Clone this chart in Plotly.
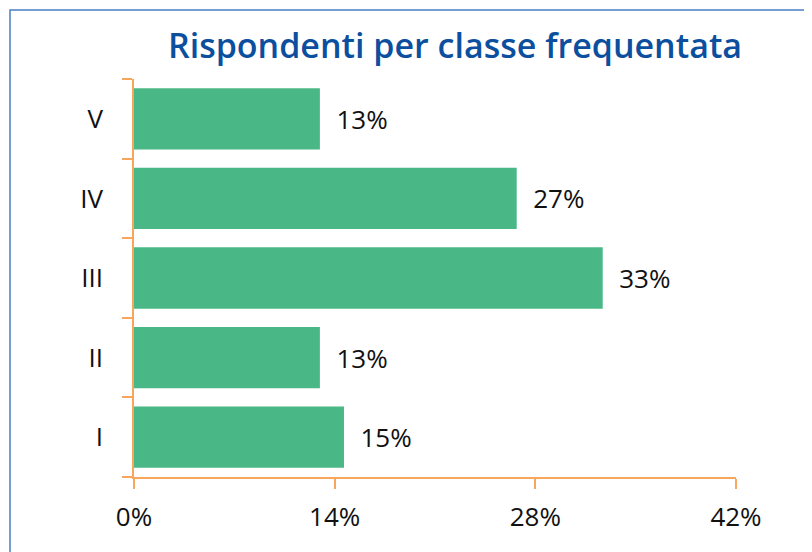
import plotly.graph_objects as go

# data
classi = ["I", "II", "III", "IV", "V"]
quote = [0.1465, 0.1297, 0.327, 0.267, 0.1297]
tick_vals = [0, 0.14, 0.28, 0.42]
tick_text = ["0%", "14%", "28%", "42%"]

GREEN = "#49B886"
ORANGE = "#F7A65B"
BLUE = "#0B4F9E"
FONT = "Open Sans"

figure = go.Figure(
    go.Bar(
        x=quote,
        y=classi,
        orientation="h",
        marker=dict(color=GREEN, line_width=0),
        texttemplate="  %{x:.0%}",
        textposition="outside",
        textfont=dict(family=FONT, size=26, color="#111111"),
        cliponaxis=False,
        hoverinfo="skip",
    )
)

# the page has an 8px body margin, so the figure is 804x544 and starts at (8, 8)
# plot area on the page: x 134..736, y 79..477
W, H = 804, 544
L, T = 126, 71
pw, ph = 602, 398
R, B = W - L - pw, H - T - ph


def px_x(p):
    return (p - 8 - L) / pw


def px_y(p):
    return (T + ph - (p - 8)) / ph


figure.add_shape(
    type="rect",
    xref="paper",
    yref="paper",
    x0=px_x(10),
    x1=px_x(830),
    y0=px_y(570),
    y1=px_y(10),
    line=dict(color="#4A7FC7", width=1.5),
    fillcolor="rgba(0,0,0,0)",
    layer="below",
)

figure.update_layout(
    width=W,
    height=H,
    margin=dict(l=L, r=R, t=T, b=B),
    paper_bgcolor="white",
    plot_bgcolor="white",
    showlegend=False,
    bargap=0.23,
    title=dict(
        text="Rispondenti per classe frequentata",
        font=dict(family=FONT, size=34, color=BLUE, weight=600),
        xref="container",
        x=(455 - 8) / W,
        xanchor="center",
        yref="container",
        y=1 - (46 - 8) / H,
        yanchor="middle",
    ),
)
figure.update_xaxes(
    range=[0, 0.42],
    tickvals=tick_vals,
    ticktext=tick_text,
    showgrid=False,
    zeroline=False,
    showline=True,
    linecolor=ORANGE,
    linewidth=1.5,
    ticks="outside",
    ticklen=10,
    tickcolor=ORANGE,
    tickwidth=1.5,
    ticklabelstandoff=6,
    tickfont=dict(family=FONT, size=26, color="#111111"),
)
figure.update_yaxes(
    showgrid=False,
    zeroline=False,
    showline=True,
    linecolor=ORANGE,
    linewidth=1.5,
    ticks="outside",
    tickson="boundaries",
    ticklen=10,
    tickcolor=ORANGE,
    tickwidth=1.5,
    ticklabelstandoff=24,
    tickfont=dict(family=FONT, size=26, color="#111111"),
)

figure.write_html("out.html")
